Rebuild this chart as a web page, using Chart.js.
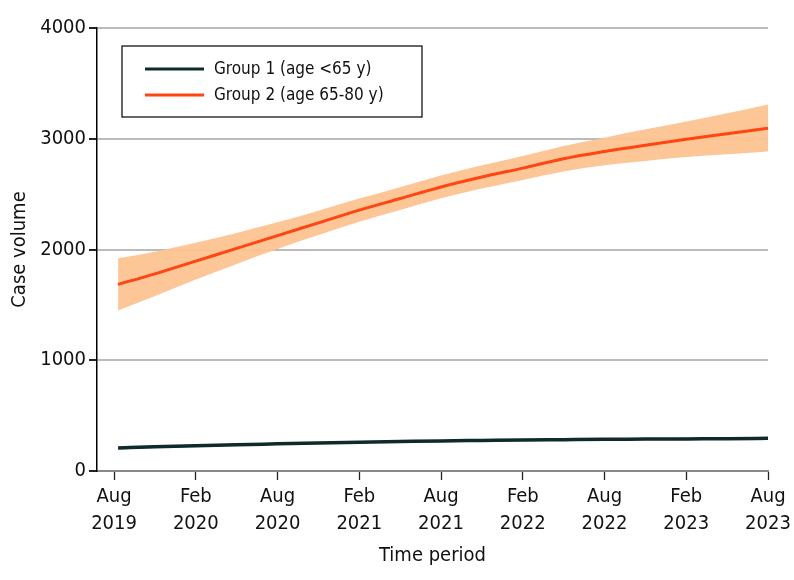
<!DOCTYPE html>
<html>
<head>
<meta charset="UTF-8">
<title>Case volume by group</title>
<script src="https://cdn.jsdelivr.net/npm/chart.js@4.4.0/dist/chart.umd.min.js"></script>
<style>
  body { margin: 0; background: #fff; }
  #wrap { width: 794px; height: 580px; }
</style>
</head>
<body>
<div id="wrap"><canvas id="chart"></canvas></div>
<script>
// months since Aug 2019
var months = [0.3, 3, 6, 9, 12, 15, 18, 21, 24, 27, 30, 33, 36, 39, 42, 45, 48];

// Group 2 (age 65-80 y)
var g2 = [1685, 1780, 1895, 2010, 2125, 2240, 2355, 2460, 2565, 2655, 2735, 2820, 2885, 2942, 2995, 3045, 3095];
var g2Upper = [1920, 1980, 2060, 2150, 2245, 2350, 2460, 2563, 2668, 2760, 2845, 2935, 3010, 3085, 3155, 3230, 3310];
var g2Lower = [1450, 1580, 1730, 1870, 2005, 2130, 2250, 2357, 2462, 2550, 2628, 2705, 2760, 2800, 2835, 2860, 2885];

// Group 1 (age <65 y)
var g1 = [208, 218, 228, 237, 245, 253, 260, 266, 272, 276, 280, 283, 286, 288, 290, 292, 295];
var g1Upper = [222, 229, 237, 245, 252, 260, 267, 273, 279, 283, 287, 291, 294, 297, 300, 303, 308];
var g1Lower = [194, 207, 219, 229, 238, 246, 253, 259, 265, 269, 273, 275, 278, 279, 280, 281, 282];

var xTicks = [0, 6, 12, 18, 24, 30, 36, 42, 48];
var xLabels = [["Aug", "2019"], ["Feb", "2020"], ["Aug", "2020"], ["Feb", "2021"], ["Aug", "2021"],
               ["Feb", "2022"], ["Aug", "2022"], ["Feb", "2023"], ["Aug", "2023"]];
var yTicks = [0, 1000, 2000, 3000, 4000];

var legendNames = ["Group 1 (age <65 y)", "Group 2 (age 65-80 y)"];
var FONT = '"DejaVu Sans Condensed", "Liberation Sans Narrow", "Noto Sans", sans-serif';

function pts(arr) {
    return arr.map(function (v, i) { return { x: months[i], y: v }; });
}

var ORANGE = "#ff4512";
var DARK = "#0e2a2a";

// legend box inside the plot
var legendBox = {
    id: "legendBox",
    afterDraw: function (chart) {
        var ctx = chart.ctx;
        var x0 = 122, y0 = 46, w = 300, h = 71;
        ctx.save();
        ctx.fillStyle = "#fff";
        ctx.fillRect(x0, y0, w, h);
        ctx.strokeStyle = "#000";
        ctx.lineWidth = 1.2;
        ctx.strokeRect(x0, y0, w, h);
        var cols = [DARK, ORANGE];
        ctx.font = "17px " + FONT;
        ctx.textBaseline = "middle";
        for (var i = 0; i < 2; i++) {
            var yy = y0 + 23 + i * 26;
            ctx.strokeStyle = cols[i];
            ctx.lineWidth = 3;
            ctx.beginPath();
            ctx.moveTo(145, yy);
            ctx.lineTo(204, yy);
            ctx.stroke();
            ctx.fillStyle = "#111";
            ctx.fillText(legendNames[i], 214, yy + 1);
        }
        ctx.restore();
    }
};

var common = { pointRadius: 0, cubicInterpolationMode: "monotone" };
function ds(o) { return Object.assign({}, common, o); }

new Chart(document.getElementById("chart").getContext("2d"), {
    type: "line",
    data: {
        datasets: [
            ds({ data: pts(g2Upper), order: 2, borderWidth: 0, fill: "+1", backgroundColor: "rgba(253,195,145,0.95)" }),
            ds({ data: pts(g2Lower), order: 2, borderWidth: 0, fill: false }),
            ds({ data: pts(g1Upper), order: 2, borderWidth: 0, fill: "+1", backgroundColor: "rgba(120,165,165,0.7)" }),
            ds({ data: pts(g1Lower), order: 2, borderWidth: 0, fill: false }),
            ds({ data: pts(g2), order: 0, borderColor: ORANGE, borderWidth: 3, fill: false }),
            ds({ data: pts(g1), order: 0, borderColor: DARK, borderWidth: 3.5, fill: false })
        ]
    },
    options: {
        responsive: true,
        maintainAspectRatio: false,
        animation: false,
        layout: { padding: { top: 28, right: 26, left: 4, bottom: 8 } },
        plugins: { legend: { display: false }, tooltip: { enabled: false } },
        scales: {
            x: {
                type: "linear",
                min: -1.25,
                max: 48,
                afterBuildTicks: function (scale) {
                    scale.ticks = xTicks.map(function (v) { return { value: v }; });
                },
                afterFit: function (scale) { scale.height = 101; },
                border: { color: "#888", width: 2 },
                grid: { color: "rgba(0,0,0,0)", tickColor: "#222", tickLength: 9, tickWidth: 1.3, drawOnChartArea: false },
                ticks: {
                    color: "#111",
                    font: { family: FONT, size: 20, lineHeight: 1.35 },
                    padding: 3,
                    maxRotation: 0,
                    autoSkip: false,
                    callback: function (v) { return xLabels[xTicks.indexOf(v)]; }
                },
                title: { display: true, text: "Time period", color: "#111", font: { family: FONT, size: 20 }, padding: { top: 2 } }
            },
            y: {
                min: 0,
                max: 4000,
                afterBuildTicks: function (scale) {
                    scale.ticks = yTicks.map(function (v) { return { value: v }; });
                },
                afterFit: function (scale) { scale.width = 93; },
                border: { color: "#000", width: 1.5 },
                grid: {
                    color: function (c) { return c.tick && c.tick.value === 0 ? "rgba(0,0,0,0)" : "#bbb"; },
                    lineWidth: 2,
                    tickColor: "#222",
                    tickLength: 8
                },
                ticks: {
                    color: "#111",
                    font: { family: FONT, size: 20 },
                    padding: 3,
                    callback: function (v) { return String(v); }
                },
                title: { display: true, text: "Case volume", color: "#111", font: { family: FONT, size: 20 }, padding: { bottom: 4 } }
            }
        }
    },
    plugins: [legendBox]
});
</script>
</body>
</html>
